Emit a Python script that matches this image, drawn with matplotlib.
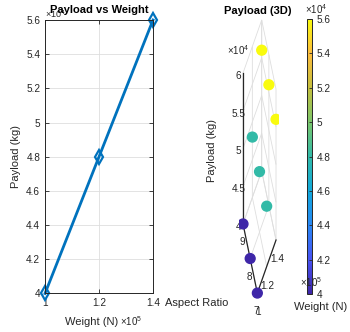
import numpy as np
import matplotlib
matplotlib.use("Agg")
import matplotlib.pyplot as plt
from matplotlib.colors import LinearSegmentedColormap
from matplotlib.ticker import FuncFormatter, MultipleLocator

plt.rcParams['font.family'] = ['Liberation Sans', 'DejaVu Sans']
plt.rcParams['mathtext.fontset'] = 'custom'
plt.rcParams['mathtext.rm'] = 'Liberation Sans'
plt.rcParams['grid.color'] = '#dedede'
plt.rcParams['grid.linewidth'] = 0.6

# datos
weight = [1.0e5, 1.2e5, 1.4e5]          # N
payload = [4.0e4, 4.8e4, 5.6e4]         # kg
aspect_ratio = [7, 8, 9]

# malla para el grafico 3D (la carga solo depende del peso)
W3, AR3 = np.meshgrid(weight, aspect_ratio, indexing='ij')
P3 = np.repeat(payload, len(aspect_ratio)).reshape(W3.shape)

# colormap tipo parula
parula = LinearSegmentedColormap.from_list('parula', [
    (0.2422, 0.1504, 0.6603), (0.2796, 0.3238, 0.9529),
    (0.1540, 0.5300, 0.9600), (0.0630, 0.6600, 0.8600),
    (0.1900, 0.7300, 0.6600), (0.4800, 0.7800, 0.4200),
    (0.7700, 0.7500, 0.2400), (0.9900, 0.7400, 0.2400),
    (0.9763, 0.9831, 0.0538)])

txt = (0.15, 0.15, 0.15)
blue = (0.0, 0.447, 0.741)
fmt4 = FuncFormatter(lambda v, p: f'{v / 1e4:g}')
fmt5 = FuncFormatter(lambda v, p: f'{v / 1e5:g}')

fig = plt.figure(figsize=(3.5, 3.32), dpi=100)

# ---- grafico 3D (se dibuja primero, queda detras) ----
ax3 = fig.add_axes([0.6834, 0.0753, 0.1131, 0.8825], projection='3d')
ax3.apply_aspect = lambda position=None: None   # estirar como en MATLAB
ax3.set_facecolor('none')
ax3.set_proj_type('ortho')
ax3.view_init(elev=30, azim=-127.5)
ax3.set_box_aspect((1, 1, 1))
sc = ax3.scatter(W3.ravel(), AR3.ravel(), P3.ravel(), c=P3.ravel(),
                 cmap=parula, vmin=payload[0], vmax=payload[-1],
                 s=50, depthshade=False, alpha=1)
ax3.set_xlim(weight[0], weight[-1])
ax3.set_ylim(aspect_ratio[0], aspect_ratio[-1])
ax3.set_zlim(4e4, 6e4)
ax3.set_xticks(weight)
ax3.set_yticks(aspect_ratio)
ax3.set_zticks(np.arange(4e4, 6.01e4, 5e3))
ax3.xaxis.set_major_formatter(fmt5)
ax3.zaxis.set_major_formatter(fmt4)
for a in (ax3.xaxis, ax3.yaxis, ax3.zaxis):
    a.set_pane_color((1, 1, 1, 0))
    a.line.set_color(txt)
    a.line.set_linewidth(0.9)
    a._axinfo['tick']['inward_factor'] = 0.0
    a._axinfo['tick']['outward_factor'] = 0.0
ax3.tick_params(labelsize=7.2, colors=txt, pad=-4)
ax3.zaxis.set_tick_params(pad=0)

# etiquetas de los ejes 3D
fig.text(212 / 350, 1 - 150 / 332, 'Payload (kg)', fontsize=8, color=txt,
         rotation=90, ha='center', va='center')
fig.text(197 / 350, 1 - 303 / 332, 'Aspect Ratio', fontsize=8, color=txt,
         ha='center', va='center')
fig.text(321 / 350, 1 - 307 / 332, 'Weight (N)', fontsize=8, color=txt,
         ha='center', va='center')

# ---- grafico 2D ----
ax = fig.add_axes([0.1286, 0.116, 0.3086, 0.8238])
ax.plot(weight, payload, '-d', color=blue, lw=2, ms=7, mfc='none',
        mew=1.6, clip_on=False)
ax.set_xlim(weight[0], weight[-1])
ax.set_ylim(payload[0], payload[-1])
ax.xaxis.set_major_locator(MultipleLocator(2e4))
ax.yaxis.set_major_locator(MultipleLocator(2e3))
ax.xaxis.set_major_formatter(fmt5)
ax.yaxis.set_major_formatter(fmt4)
ax.grid(True)
ax.tick_params(direction='in', length=3, labelsize=7.2, colors=txt,
               top=True, right=True, width=0.6)
for s in ax.spines.values():
    s.set_color(txt)
    s.set_linewidth(0.7)
ax.set_xlabel('Weight (N)', fontsize=8, color=txt)
ax.set_ylabel('Payload (kg)', fontsize=8, color=txt)
ax.xaxis.set_label_coords(0.43, -0.085)
ax.yaxis.set_label_coords(-0.22, 0.5)
ax.text(0.0, 1.0, r'$\times10^{4}$', transform=ax.transAxes,
        fontsize=6.5, color=txt, va='bottom', ha='left', zorder=0)
ax.set_title('Payload vs Weight', fontsize=8, fontweight='bold', pad=5)
fig.text(120 / 350, 1 - 326 / 332, r'$\times10^{5}$', fontsize=7, color=txt)

# ---- barra de color ----
cax = fig.add_axes([0.877, 0.1145, 0.0143, 0.828])
cb = fig.colorbar(sc, cax=cax)
cb.set_ticks(np.arange(4e4, 5.61e4, 2e3))
cb.formatter = fmt4
cb.update_ticks()
cax.tick_params(direction='in', length=2.5, labelsize=7.2, colors=txt,
                width=0.6)
cb.outline.set_edgecolor(txt)
cb.outline.set_linewidth(0.7)
fig.text(305 / 350, 1 - 14 / 332, r'$\times10^{4}$', fontsize=7, color=txt)

fig.text(258 / 350, 1 - 14 / 332, 'Payload (3D)', fontsize=8,
         fontweight='bold', ha='center', va='baseline')
fig.text(249 / 350, 1 - 55 / 332, r'$\times10^{4}$', fontsize=7, color=txt,
         ha='right')
fig.text(300 / 350, 1 - 287 / 332, r'$\times10^{5}$', fontsize=7, color=txt)

fig.savefig('out.png', dpi=100)
